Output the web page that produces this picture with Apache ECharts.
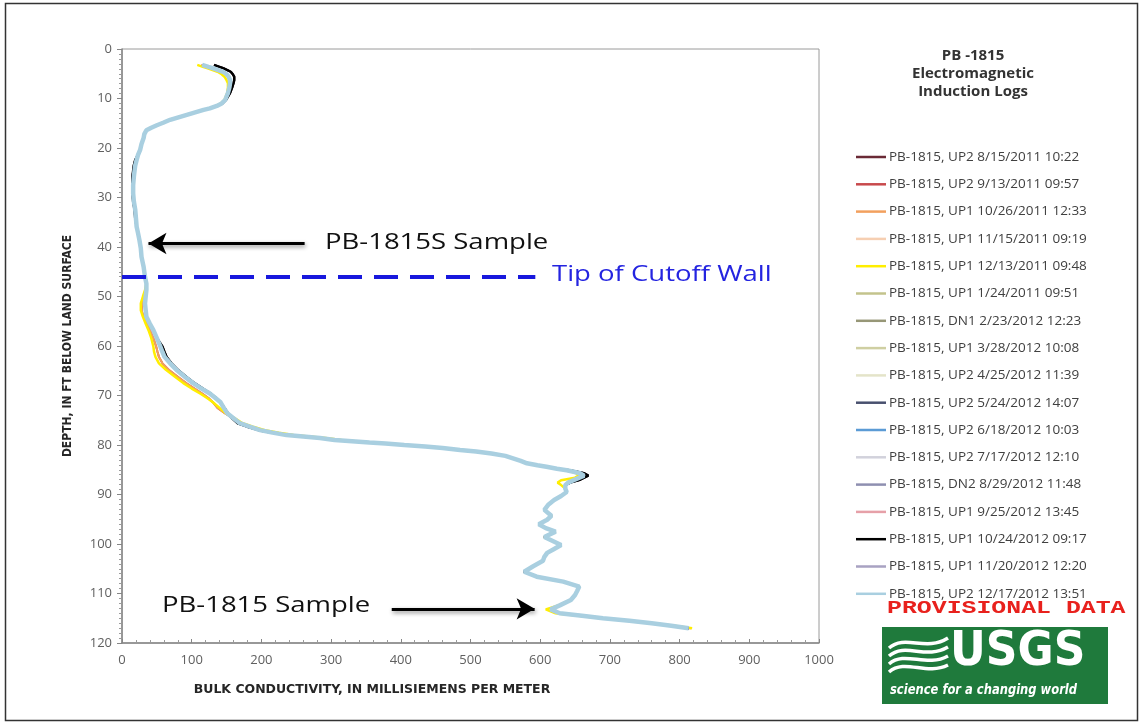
<!DOCTYPE html>
<html><head><meta charset="utf-8">
<script src="https://cdn.jsdelivr.net/npm/echarts/dist/echarts.min.js"></script>
<style>html,body{margin:0;padding:0;background:#fff}#c{width:1141px;height:725px}</style>
</head><body><div id="c"></div>
<script>
// ---------- DATA ----------
const depthFt = [3.2,3.6,3.9,4.3,4.6,5.1,5.6,6.3,6.9,7.8,
 8.9,9.6,10.3,11.0,11.5,12.0,12.3,12.8,13.3,13.8,
 14.3,14.9,15.4,15.9,16.4,17.2,18.0,19.2,20.4,21.4,
 22.4,23.5,24.6,25.8,27.5,29.2,30.8,32.5,34.2,35.9,
 37.2,38.6,40.3,42.0,44.0,46.0,47.4,48.7,50.0,51.4,
 52.8,54.1,55.5,56.8,58.4,60.1,61.2,62.2,63.5,64.8,
 66.2,67.5,68.6,69.6,70.5,71.3,72.5,73.6,74.6,75.6,
 76.3,77.0,77.5,78.0,78.3,78.6,79.0,79.3,79.5,79.7,
 80.0,80.3,80.6,81.0,81.3,81.7,82.2,82.7,83.2,83.7,
 84.1,84.4,84.8,85.1,85.4,85.7,86.2,86.6,87.1,87.6,
 88.1,88.8,89.5,90.3,91.1,92.0,93.1,94.3,95.1,96.0,
 96.8,97.5,98.6,99.4,100.2,101.0,101.8,102.6,103.4,104.5,
 105.6,106.6,107.6,108.6,109.5,110.3,111.3,112.4,113.2,114.0,
 114.5,115.0,115.5,116.0,116.5,117.0];

// typical log (most surveys overlap this trace)
const condBase = [115,124,131,139,145,150,153,155,155,154,
 152,150,148,143,136,126,117,105,93,81,
 69,59,50,42,35,32,31,28,26,23,
 21,19,18,17,16,16,17,19,20,21,
 23,25,27,28,31,33,35,35,34,33,
 34,35,40,45,50,55,58,61,69,78,
 90,102,114,126,134,141,146,151,160,169,
 183,198,216,236,260,284,305,335,355,378,
 405,435,460,485,508,530,550,561,572,581,
 596,609,624,638,648,657,663,664,648,640,
 636,636,638,630,620,612,606,616,610,598,
 608,622,606,618,630,620,610,606,604,590,
 577,595,633,656,653,650,644,628,615,628,
 660,690,728,760,788,813];

// 12/13/2011 (yellow) trace
const condYellow = [108,116,123,131,137,143,147,150,152,152,
 151,149,147,142,135,125,117,105,93,81,
 69,59,50,42,35,32,31,28,26,23,
 21,19,18,17,16,16,17,19,20,21,
 23,25,27,28,31,33,35,33,30,27,
 27,30,34,38,42,45,46,48,53,63,
 76,88,100,112,122,130,140,149,162,173,
 188,205,225,246,268,292,315,338,358,380,
 405,435,460,485,508,530,550,561,572,581,
 596,609,624,636,645,652,655,650,630,625,
 630,636,638,630,620,612,606,616,610,598,
 608,622,606,618,630,620,610,606,604,590,
 577,595,633,656,653,650,644,626,608,622,
 655,688,728,762,792,818];

// 9/13/2011 and 10/26/2011 traces
const condEarly = [114,122,129,137,143,149,152,154,155,154,
 152,150,148,143,136,126,117,105,93,81,
 69,59,50,42,35,32,31,28,26,23,
 21,19,18,17,16,16,17,19,20,21,
 23,25,27,28,31,33,35,34,32,29,
 28,31,36,40,45,49,51,53,58,67,
 80,92,104,115,124,130,137,148,160,171,
 186,202,220,240,264,288,310,336,355,378,
 405,435,460,485,508,530,550,561,572,581,
 596,609,624,638,648,657,663,665,648,640,
 636,636,638,630,620,612,606,616,610,598,
 608,622,606,618,630,620,610,606,604,590,
 577,595,633,656,653,650,644,628,615,628,
 660,690,728,760,790,816];

// 8/15/2011, 5/24/2012 and 10/24/2012 traces
const condDark = [132,140,146,152,156,159,161,161,160,158,
 155,152,149,144,137,127,117,105,93,81,
 69,59,50,42,35,32,31,28,26,23,
 19,17,16,15,15,15,16,18,19,21,
 23,25,27,28,31,33,35,35,34,33,
 34,35,40,45,50,58,61,64,71,80,
 92,104,116,127,135,141,147,152,158,166,
 180,196,214,236,260,284,305,335,355,378,
 405,435,460,485,508,530,550,561,572,581,
 596,609,624,642,653,663,669,671,656,643,
 636,636,638,630,620,612,606,616,610,598,
 608,622,606,618,630,620,610,606,604,590,
 577,595,633,656,653,650,644,628,615,628,
 660,690,728,760,788,813];

const logNames = [
 'PB-1815, UP2 8/15/2011 10:22',
 'PB-1815, UP2 9/13/2011 09:57',
 'PB-1815, UP1 10/26/2011 12:33',
 'PB-1815, UP1 11/15/2011 09:19',
 'PB-1815, UP1 12/13/2011 09:48',
 'PB-1815, UP1 1/24/2011 09:51',
 'PB-1815, DN1 2/23/2012 12:23',
 'PB-1815, UP1 3/28/2012 10:08',
 'PB-1815, UP2 4/25/2012 11:39',
 'PB-1815, UP2 5/24/2012 14:07',
 'PB-1815, UP2 6/18/2012 10:03',
 'PB-1815, UP2 7/17/2012 12:10',
 'PB-1815, DN2 8/29/2012 11:48',
 'PB-1815, UP1 9/25/2012 13:45',
 'PB-1815, UP1 10/24/2012 09:17',
 'PB-1815, UP1 11/20/2012 12:20',
 'PB-1815, UP2 12/17/2012 13:51'];
const logTrace = [condDark, condEarly, condEarly, condBase, condYellow, condBase, condBase, condBase, condBase,
 condDark, condBase, condBase, condBase, condBase, condDark, condBase, condBase];

// annotation values (data space)
const sampleShallow = {depth: 39.3, fromCond: 262, toCond: 38};
const sampleDeep = {depth: 113.1, fromCond: 387, toCond: 592};
const cutoffWall = {depth: 46.0, fromCond: 0, toCond: 593};

// ---------- STYLE ----------
const logColors = ['#6a2a36','#c8494c','#f2a05e','#f6cfb2','#ffee00','#c3c38c','#979777','#cfcfa2',
 '#e4e4c9','#48506e','#5b9bd5','#d2d2dc','#8e8fb0','#e6a0a8','#000000','#a8a2c2','#a9cfe0'];
const logWidths = [2,2,2,2,2.5,2,2,2,2,2,2,2,2,2,2.5,2,4.5];

const narrow = "'Liberation Sans Narrow','DejaVu Sans Condensed','Liberation Sans',sans-serif";
const sans = "'Open Sans','Liberation Sans',sans-serif";

const series = logNames.map((name, i) => ({
  name, type: 'line', symbol: 'none', animation: false, clip: true,
  data: depthFt.map((d, j) => [logTrace[i][j], d]),
  lineStyle: {color: logColors[i], width: logWidths[i]},
  itemStyle: {color: logColors[i]},
  z: 2
}));

const shadow = {shadowBlur: 4, shadowColor: 'rgba(0,0,0,0.45)', shadowOffsetX: 1, shadowOffsetY: 2};
series.push({
  name: 'arrows', type: 'line', data: [], symbol: 'none', silent: true, z: 6,
  markLine: {silent: true, animation: false, symbol: ['none', 'arrow'], symbolSize: [16, 18],
    label: {show: false},
    lineStyle: Object.assign({color: '#000', width: 3, type: 'solid'}, shadow),
    emphasis: {disabled: true},
    data: [
      [{coord: [sampleShallow.fromCond, sampleShallow.depth]}, {coord: [sampleShallow.toCond, sampleShallow.depth]}],
      [{coord: [sampleDeep.fromCond, sampleDeep.depth]}, {coord: [sampleDeep.toCond, sampleDeep.depth]}]
    ]}
});
series.push({
  name: 'cutoff', type: 'line', data: [], symbol: 'none', silent: true, z: 6,
  markLine: {silent: true, animation: false, symbol: ['none', 'none'], label: {show: false},
    lineStyle: {color: '#1818dd', width: 4, type: [24, 12]},
    emphasis: {disabled: true},
    data: [[{coord: [cutoffWall.fromCond, cutoffWall.depth]}, {coord: [cutoffWall.toCond, cutoffWall.depth]}]]}
});

const chart = echarts.init(document.getElementById('c'), null, {renderer: 'canvas'});
chart.setOption({
  backgroundColor: '#fff',
  animation: false,
  grid: {left: 122, right: 322, top: 49, bottom: 82, show: true, borderColor: '#9a9a9a', borderWidth: 1},
  xAxis: {type: 'value', min: 0, max: 1000, interval: 100, position: 'bottom',
    axisLine: {show: true, onZero: false, lineStyle: {color: '#868686', width: 1.5}},
    axisTick: {show: true, inside: true, length: 4, lineStyle: {color: '#868686'}},
    minorTick: {show: true, splitNumber: 5, length: 3, lineStyle: {color: '#9a9a9a'}},
    axisLabel: {fontFamily: sans, fontSize: 13, color: '#606060', margin: 11, formatter: v => String(v)},
    splitLine: {show: false}},
  yAxis: {type: 'value', inverse: true, min: 0, max: 120, interval: 10,
    name: 'DEPTH, IN FT BELOW LAND SURFACE', nameLocation: 'middle', nameGap: 48,
    nameTextStyle: {fontFamily: narrow, fontWeight: 'bold', fontSize: 12, color: '#262626'},
    axisLine: {show: true, onZero: false, lineStyle: {color: '#868686', width: 1.5}},
    axisTick: {show: true, length: 5, lineStyle: {color: '#868686'}},
    minorTick: {show: true, splitNumber: 10, length: 3, lineStyle: {color: '#9a9a9a'}},
    axisLabel: {fontFamily: sans, fontSize: 13, color: '#606060', margin: 10},
    splitLine: {show: false}},
  legend: {orient: 'vertical', left: 851, top: 144, itemWidth: 30, itemHeight: 2.5, itemGap: 11.3,
    icon: 'rect', data: logNames, selectedMode: false,
    textStyle: {fontFamily: sans, fontSize: 13.5, color: '#404040', lineHeight: 16, padding: [0, 0, 0, -2]}},
  series: series,
  graphic: [
    {type: 'rect', silent: true, shape: {x: 5.5, y: 3.5, width: 1132, height: 717},
      style: {fill: 'none', stroke: '#333', lineWidth: 1.5}},
    {type: 'text', x: 973, y: 56, silent: true, style: {text: 'PB -1815', fontFamily: sans, fontWeight: 'bold', fontSize: 15, fill: '#333', align: 'center', verticalAlign: 'middle'}},
    {type: 'text', x: 973, y: 74, silent: true, style: {text: 'Electromagnetic', fontFamily: sans, fontWeight: 'bold', fontSize: 15, fill: '#333', align: 'center', verticalAlign: 'middle'}},
    {type: 'text', x: 973, y: 92, silent: true, style: {text: 'Induction Logs', fontFamily: sans, fontWeight: 'bold', fontSize: 15, fill: '#333', align: 'center', verticalAlign: 'middle'}},
    {type: 'text', x: 372, y: 690, scaleX: 1.11, silent: true, style: {text: 'BULK CONDUCTIVITY, IN MILLISIEMENS PER METER', fontFamily: narrow, fontWeight: 'bold', fontSize: 12.5, fill: '#262626', align: 'center', verticalAlign: 'middle'}},
    {type: 'text', x: 325, y: 243, scaleX: 1.25, silent: true, z: 10, style: {text: 'PB-1815S Sample', fontFamily: sans, fontSize: 22, fill: '#111', align: 'left', verticalAlign: 'middle'}},
    {type: 'text', x: 552, y: 275, scaleX: 1.25, silent: true, z: 10, style: {text: 'Tip of Cutoff Wall', fontFamily: sans, fontSize: 22, fill: '#2424e0', align: 'left', verticalAlign: 'middle'}},
    {type: 'text', x: 162, y: 606, scaleX: 1.25, silent: true, z: 10, style: {text: 'PB-1815 Sample', fontFamily: sans, fontSize: 22, fill: '#111', align: 'left', verticalAlign: 'middle'}},
    {type: 'text', x: 887, y: 608, scaleX: 1.38, silent: true, style: {text: 'PROVISIONAL DATA', fontFamily: "'Liberation Mono','DejaVu Sans Mono',monospace", fontWeight: 'bold', fontSize: 18, fill: '#e8211d', align: 'left', verticalAlign: 'middle'}},
    {type: 'group', silent: true, children: [
      {type: 'rect', shape: {x: 882, y: 627, width: 226, height: 77}, style: {fill: '#1f7a3c'}},
      {type: 'bezierCurve', shape: {x1: 889, y1: 648, cpx1: 905, cpy1: 634, cpx2: 926, cpy2: 652, x2: 948, y2: 638}, style: {stroke: '#fff', lineWidth: 3.5, fill: 'none'}},
      {type: 'bezierCurve', shape: {x1: 889, y1: 656, cpx1: 905, cpy1: 642, cpx2: 926, cpy2: 660, x2: 948, y2: 647}, style: {stroke: '#fff', lineWidth: 3.5, fill: 'none'}},
      {type: 'bezierCurve', shape: {x1: 889, y1: 664, cpx1: 905, cpy1: 650, cpx2: 926, cpy2: 668, x2: 948, y2: 656}, style: {stroke: '#fff', lineWidth: 3.5, fill: 'none'}},
      {type: 'bezierCurve', shape: {x1: 889, y1: 672, cpx1: 905, cpy1: 658, cpx2: 926, cpy2: 676, x2: 948, y2: 665}, style: {stroke: '#fff', lineWidth: 3.5, fill: 'none'}},
      {type: 'text', x: 950, y: 653, scaleX: 1.02, style: {text: 'USGS', fontFamily: narrow, fontWeight: 'bold', fontSize: 48, fill: '#fff', align: 'left', verticalAlign: 'middle'}},
      {type: 'text', x: 890, y: 690, scaleX: 0.95, style: {text: 'science for a changing world', fontFamily: narrow, fontWeight: 'bold', fontStyle: 'italic', fontSize: 13.5, fill: '#fff', align: 'left', verticalAlign: 'middle'}}
    ]}
  ]
});
</script></body></html>
